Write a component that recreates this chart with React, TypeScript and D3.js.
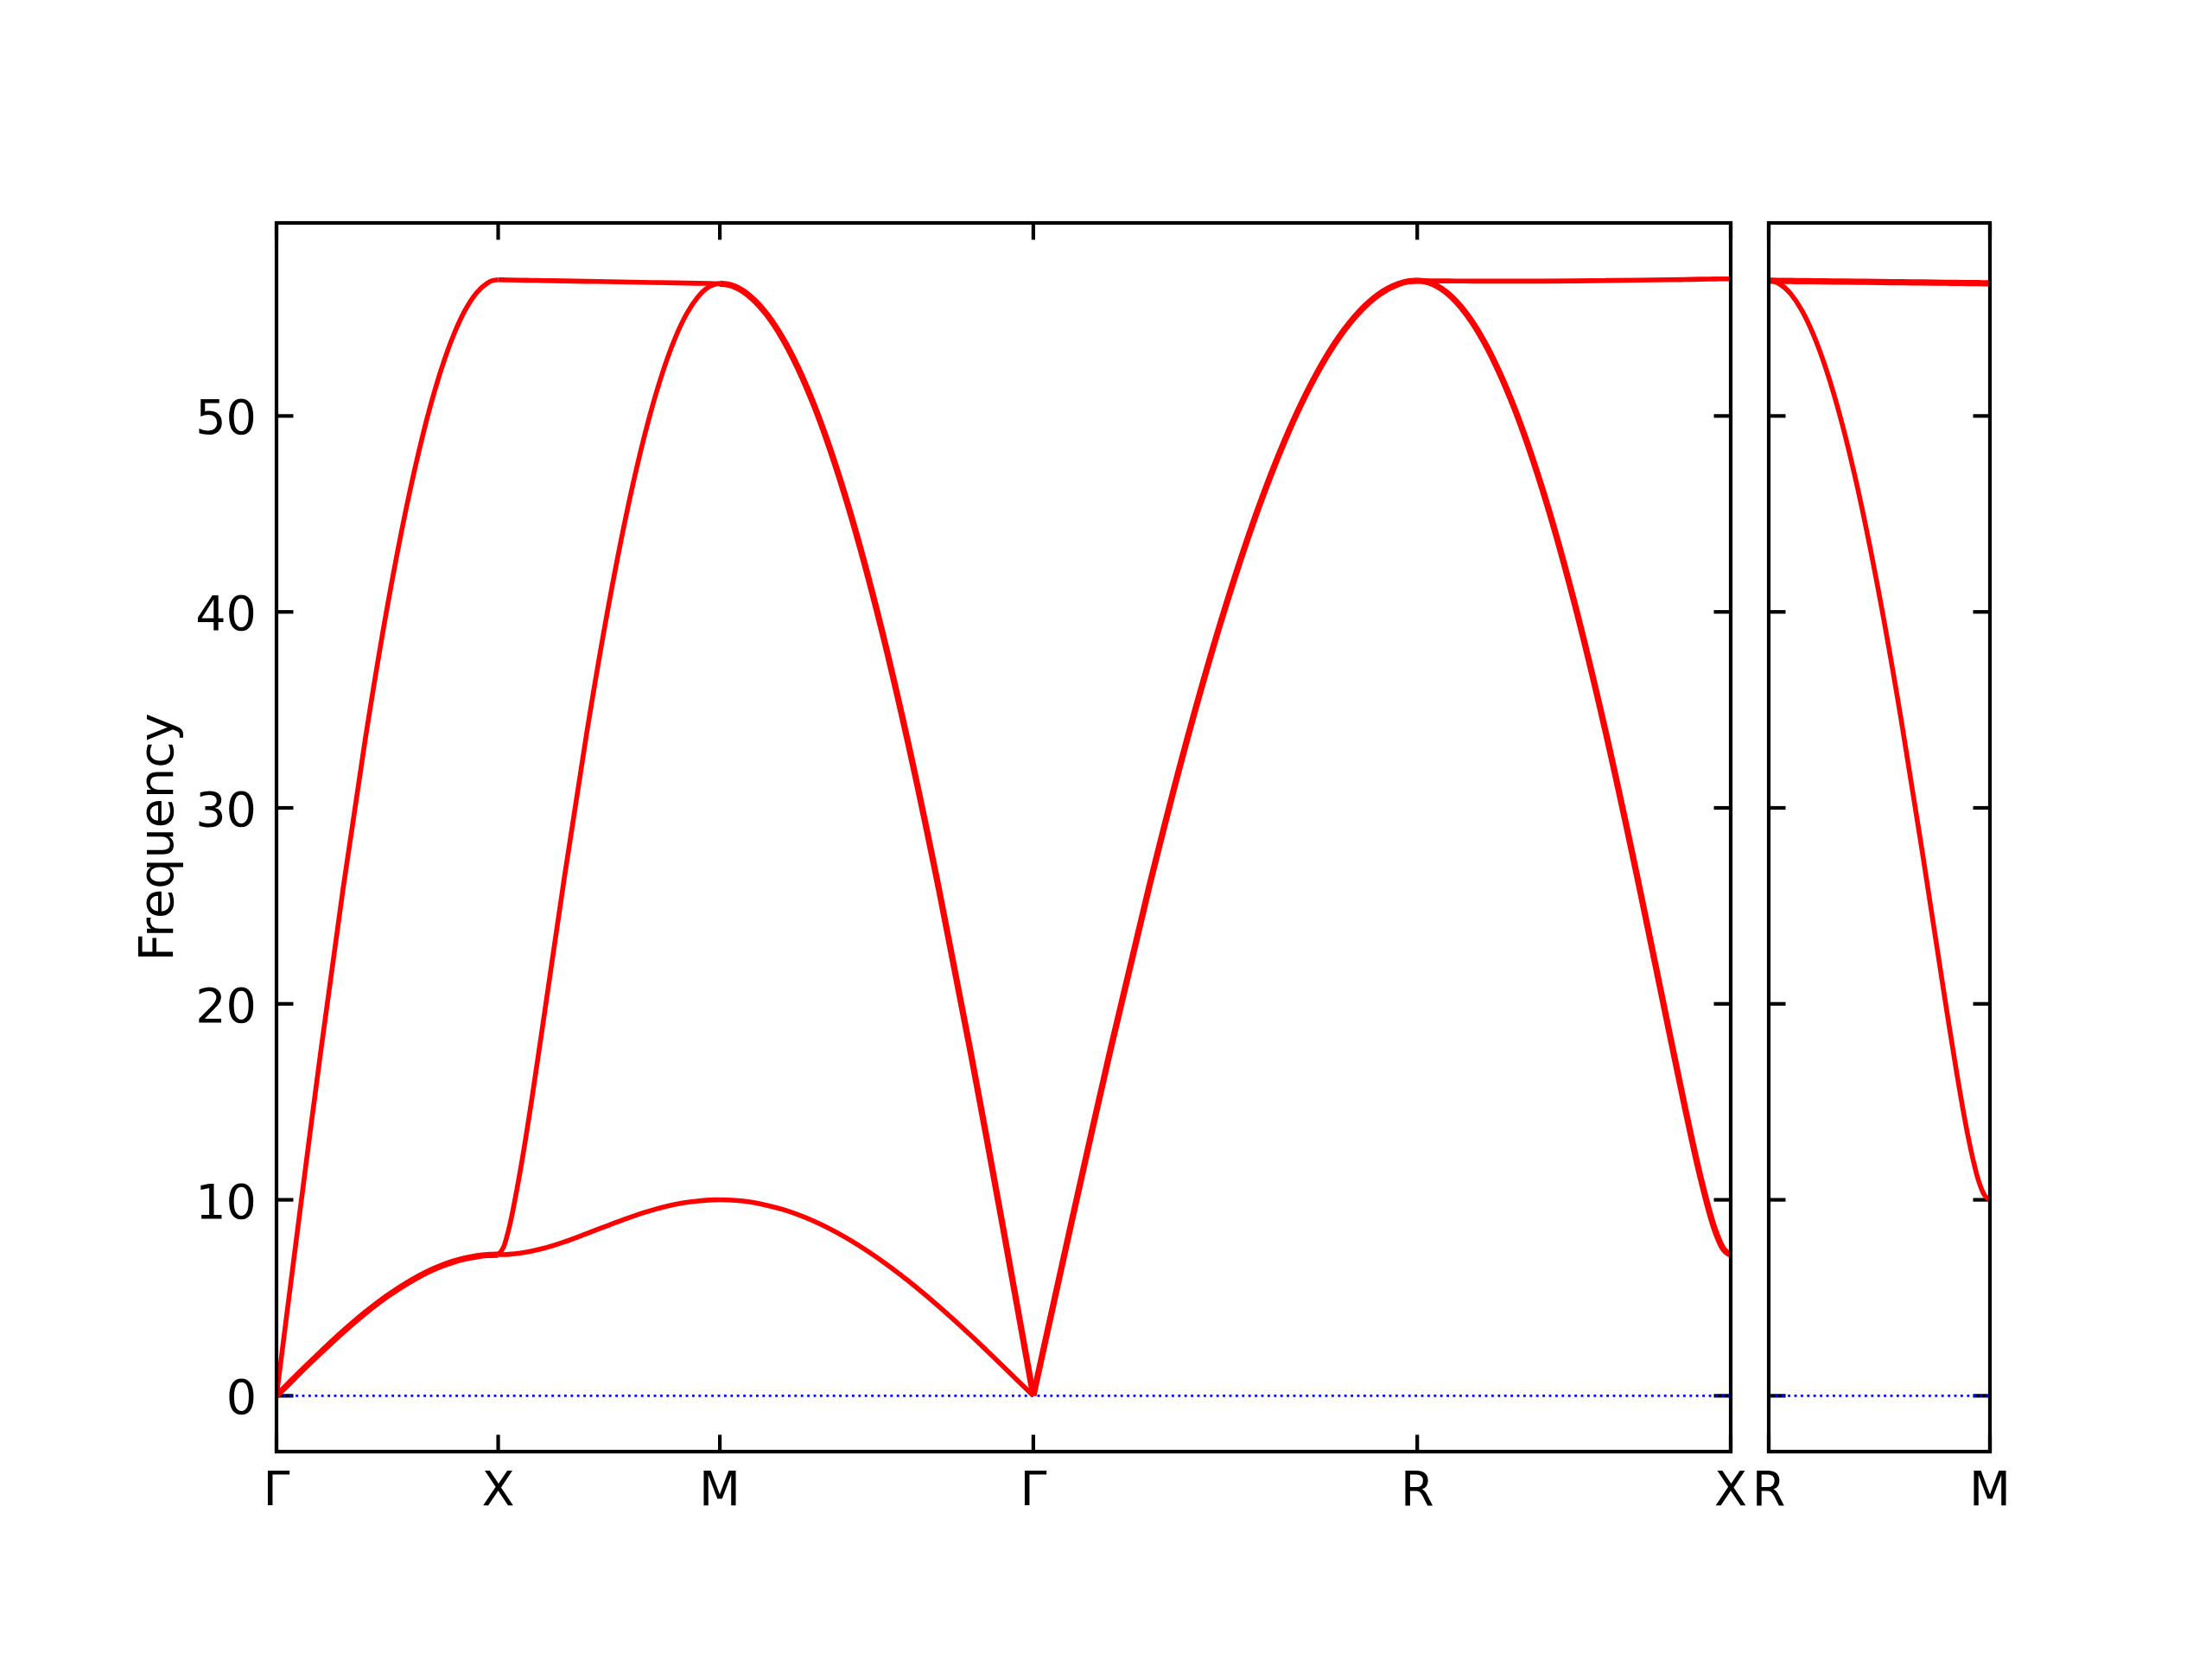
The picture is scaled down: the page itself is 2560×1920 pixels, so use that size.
import React from "react";
import * as d3 from "d3";

// ---- data ----
const yLimits = [-2.85, 59.85];
const yTicks = [0, 10, 20, 30, 40, 50];
const yLabel = "Frequency";

const leftLabels = ["Γ", "X", "M", "Γ", "R", "X"];
const leftSegLengths = [0.5, 0.5, 0.7071, 0.866, 0.7071];
const rightLabels = ["R", "M"];
const rightSegLengths = [0.5];

// fractional positions along each segment where frequencies were read
const sampleFrac = [0, 0.025, 0.05, 0.1, 0.15, 0.2, 0.3, 0.4, 0.5, 0.6, 0.7, 0.8, 0.85, 0.9, 0.95, 0.975, 1.0];

// Γ → X
const gxLong = [0, 2.24, 4.47, 8.91, 13.3, 17.6, 25.85, 33.47, 40.27, 46.07, 50.74, 54.16, 55.38, 56.25, 56.77, 56.91, 56.95];
const gxTrans = [0, 0.28, 0.56, 1.13, 1.68, 2.22, 3.27, 4.23, 5.09, 5.82, 6.42, 6.85, 7.0, 7.11, 7.18, 7.19, 7.2];
// X → M
const xmTop = [56.95, 56.945, 56.94, 56.93, 56.92, 56.91, 56.89, 56.87, 56.85, 56.83, 56.81, 56.79, 56.78, 56.77, 56.76, 56.755, 56.75];
const xmMid = [7.2, 7.6, 8.6, 11.5, 15.0, 18.83, 26.55, 33.86, 40.45, 46.11, 50.67, 54.02, 55.21, 56.06, 56.58, 56.71, 56.75];
const xmLow = [7.2, 7.205, 7.22, 7.28, 7.38, 7.51, 7.86, 8.28, 8.71, 9.13, 9.49, 9.77, 9.87, 9.94, 9.985, 9.996, 10.0];
// M → Γ
const mgTop = [56.75, 56.71, 56.58, 56.05, 55.18, 53.97, 50.57, 45.91, 40.13, 33.36, 25.76, 17.54, 13.25, 8.88, 4.45, 2.23, 0];
const mgLow = [10.0, 9.99, 9.97, 9.88, 9.72, 9.51, 8.91, 8.09, 7.07, 5.88, 4.54, 3.09, 2.33, 1.56, 0.78, 0.39, 0];
// Γ → R
const grAll = [0, 2.23, 4.46, 8.9, 13.28, 17.58, 25.83, 33.45, 40.23, 46.03, 50.7, 54.12, 55.33, 56.2, 56.72, 56.86, 56.9];
// R → X
const rxTop = [56.9, 56.9, 56.895, 56.89, 56.885, 56.88, 56.88, 56.88, 56.89, 56.91, 56.93, 56.95, 56.96, 56.98, 56.99, 56.995, 57.0];
const rxLow = [56.9, 56.86, 56.73, 56.21, 55.35, 54.16, 50.8, 46.23, 40.56, 33.95, 26.62, 18.87, 15.02, 11.39, 8.45, 7.53, 7.2];
// R → M (second panel)
const rmTop = [56.9, 56.897, 56.894, 56.887, 56.88, 56.874, 56.861, 56.848, 56.835, 56.822, 56.809, 56.796, 56.79, 56.783, 56.777, 56.773, 56.77];
const rmLow = [56.9, 56.86, 56.73, 56.22, 55.38, 54.2, 50.9, 46.41, 40.85, 34.41, 27.33, 19.99, 16.46, 13.3, 10.92, 10.24, 10.0];

// band lists per segment with degeneracy
const leftSegBands = [
  [{ v: gxLong, deg: 1 }, { v: gxTrans, deg: 2 }],
  [{ v: xmTop, deg: 1 }, { v: xmMid, deg: 1 }, { v: xmLow, deg: 1 }],
  [{ v: mgTop, deg: 2 }, { v: mgLow, deg: 1 }],
  [{ v: grAll, deg: 3 }],
  [{ v: rxTop, deg: 1 }, { v: rxLow, deg: 2 }],
];
const rightSegBands = [[{ v: rmTop, deg: 2 }, { v: rmLow, deg: 1 }]];

const FONT = "DejaVu Sans";
const FS = 55.6;
const TOP = 258;
const BOTTOM = 1680;
const TICK = 19.5;
const SPINE_W = 4.2;

function Panel({ labels, segLengths, segBands, x0, x1, showYLabels, id }) {
  const total = d3.sum(segLengths);
  const x = d3.scaleLinear().domain([0, total]).range([x0, x1]);
  const y = d3.scaleLinear().domain(yLimits).range([BOTTOM, TOP]);
  const starts = [0, ...d3.cumsum(segLengths)];
  const line = d3
    .line()
    .x((d) => x(d[0]))
    .y((d) => y(d[1]))
    .curve(d3.curveMonotoneX);

  const paths = [];
  segBands.forEach((bands, si) => {
    const s0 = starts[si];
    const len = segLengths[si];
    bands.forEach((b, bi) => {
      const pts = sampleFrac.map((t, i) => [s0 + t * len, b.v[i]]);
      paths.push(
        <path
          key={`${si}-${bi}`}
          d={line(pts)}
          fill="none"
          stroke="#ff0000"
          strokeWidth={b.deg > 1 ? 7.2 : 5.6}
          strokeLinejoin="round"
        />
      );
    });
  });

  return (
    <g>
      <defs>
        <clipPath id={id}>
          <rect x={x0} y={TOP} width={x1 - x0} height={BOTTOM - TOP} />
        </clipPath>
      </defs>
      {/* ticks (below lines) */}
      <g stroke="#000" strokeWidth={SPINE_W}>
        {yTicks.map((t) => (
          <g key={"yt" + t}>
            <line x1={x0} x2={x0 + TICK} y1={y(t)} y2={y(t)} />
            <line x1={x1} x2={x1 - TICK} y1={y(t)} y2={y(t)} />
          </g>
        ))}
        {starts.map((s, i) => (
          <g key={"xt" + i}>
            <line x1={x(s)} x2={x(s)} y1={BOTTOM} y2={BOTTOM - TICK} />
            <line x1={x(s)} x2={x(s)} y1={TOP} y2={TOP + TICK} />
          </g>
        ))}
      </g>
      <g clipPath={`url(#${id})`}>
        <line
          x1={x0}
          x2={x1}
          y1={y(0)}
          y2={y(0)}
          stroke="#0000ff"
          strokeWidth={2.8}
          strokeDasharray="2.8 4.6"
        />
        {paths}
      </g>
      <rect
        x={x0}
        y={TOP}
        width={x1 - x0}
        height={BOTTOM - TOP}
        fill="none"
        stroke="#000"
        strokeWidth={SPINE_W}
      />
      {showYLabels &&
        yTicks.map((t) => (
          <text
            key={"yl" + t}
            x={x0 - 23}
            y={y(t) + 21}
            textAnchor="end"
            fontFamily={FONT}
            fontSize={FS}
            fill="#000"
          >
            {t}
          </text>
        ))}
      {starts.map((s, i) => (
        <text
          key={"xl" + i}
          x={x(s)}
          y={1742}
          textAnchor="middle"
          fontFamily={FONT}
          fontSize={FS}
          fill="#000"
        >
          {labels[i]}
        </text>
      ))}
    </g>
  );
}

export default function App() {
  return (
    <svg
      width={2560}
      height={1920}
      viewBox="0 0 2560 1920"
      style={{ position: "absolute", left: 0, top: 0, display: "block", background: "#fff" }}
    >
      <rect x={0} y={0} width={2560} height={1920} fill="#fff" />
      <Panel
        id="clipL"
        labels={leftLabels}
        segLengths={leftSegLengths}
        segBands={leftSegBands}
        x0={320}
        x1={2003}
        showYLabels={true}
      />
      <Panel
        id="clipR"
        labels={rightLabels}
        segLengths={rightSegLengths}
        segBands={rightSegBands}
        x0={2047}
        x1={2303}
        showYLabels={false}
      />
      <text
        transform={`translate(200, ${(TOP + BOTTOM) / 2}) rotate(-90)`}
        textAnchor="middle"
        fontFamily={FONT}
        fontSize={FS}
        fill="#000"
      >
        {yLabel}
      </text>
    </svg>
  );
}
